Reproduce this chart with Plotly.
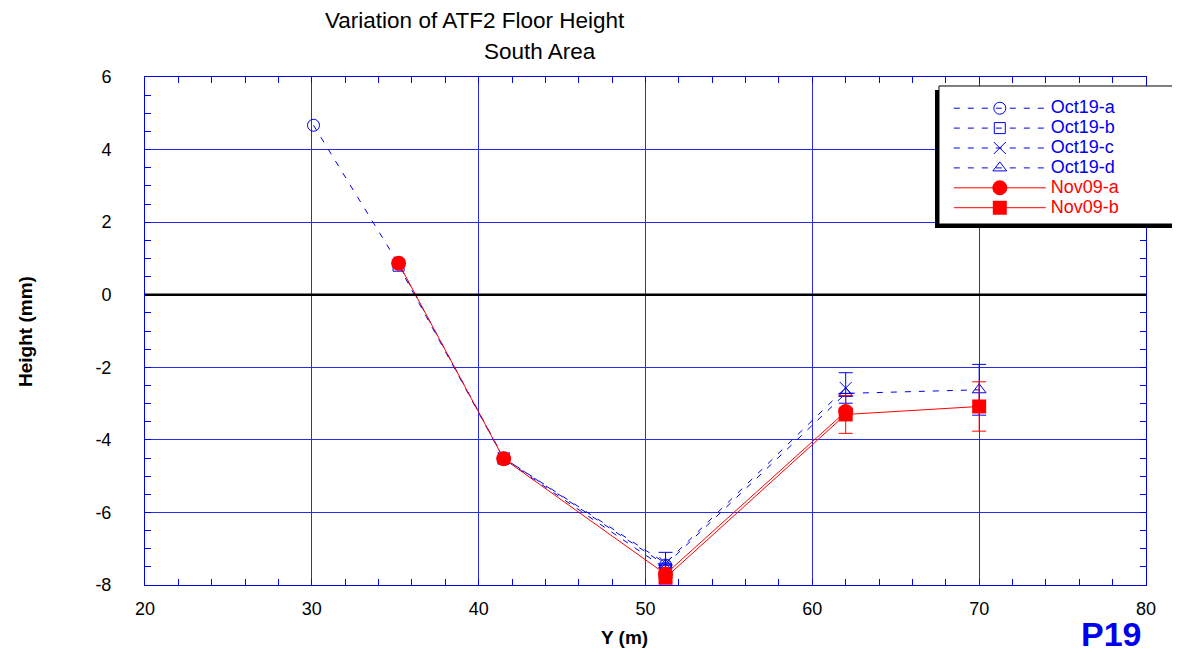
import plotly.graph_objects as go

# Oct19 survey (blue, dashed)
oct_a_x = [30.1, 35.2, 41.5, 51.2]
oct_a_y = [4.67, 0.85, -4.50, -7.45]
oct_b_x = [35.2, 41.5, 51.2]
oct_b_y = [0.80, -4.52, -7.55]
oct_c_x = [41.5, 51.2, 62.0]
oct_c_y = [-4.50, -7.40, -2.57]
oct_c_err = [0.0, 0.30, 0.42]
oct_d_x = [51.2, 62.0, 70.0]
oct_d_y = [-7.45, -2.72, -2.62]
oct_d_err = [0.0, 0.0, 0.70]

# Nov09 survey (red, solid)
nov_a_x = [35.2, 41.5, 51.2, 62.0]
nov_a_y = [0.87, -4.52, -7.70, -3.22]
nov_b_x = [51.2, 62.0, 70.0]
nov_b_y = [-7.80, -3.30, -3.08]
nov_b_err = [0.0, 0.52, 0.68]

x_ticks = [20, 30, 40, 50, 60, 70, 80]
y_ticks = [6, 4, 2, 0, -2, -4, -6, -8]
y_tick_text = [str(v) for v in y_ticks]  # plain hyphen like the original

BLUE = "#0000ee"
RED = "#ff0000"
FONT = "Liberation Sans, Arial, sans-serif"

fig = go.Figure()

# legend font is kept small so rows sit close; the label text itself is enlarged via span
def label(name, color):
    return f'<span style="font-size:18px;color:{color}">{name}</span>'

def blue_trace(name, x, y, symbol, size, err=None):
    fig.add_scatter(
        x=x, y=y, name=label(name, BLUE), mode="lines+markers",
        line=dict(color=BLUE, width=1, dash="6px,8px"),
        marker=dict(symbol=symbol, size=size, color=BLUE,
                    line=dict(color=BLUE, width=1)),
        error_y=dict(type="data", array=err, color=BLUE, thickness=1, width=7,
                     visible=err is not None),
    )

def red_trace(name, x, y, symbol, size, err=None):
    fig.add_scatter(
        x=x, y=y, name=label(name, RED), mode="lines+markers",
        line=dict(color=RED, width=1),
        marker=dict(symbol=symbol, size=size, color=RED),
        error_y=dict(type="data", array=err, color=RED, thickness=1, width=7,
                     visible=err is not None),
    )

blue_trace("Oct19-a", oct_a_x, oct_a_y, "circle-open", 12)
blue_trace("Oct19-b", oct_b_x, oct_b_y, "square-open", 11)
blue_trace("Oct19-c", oct_c_x, oct_c_y, "x-thin-open", 12, oct_c_err)
blue_trace("Oct19-d", oct_d_x, oct_d_y, "triangle-up-open", 12, oct_d_err)
red_trace("Nov09-a", nov_a_x, nov_a_y, "circle", 15)
red_trace("Nov09-b", nov_b_x, nov_b_y, "square", 14, nov_b_err)

# legend box with drop shadow to the lower left, running off the right edge
fig.add_shape(type="rect", xref="paper", yref="paper", x0=0.7892, x1=1.1, y0=0.7028, y1=0.9744,
              fillcolor="black", line_width=0, layer="above")
fig.add_shape(type="rect", xref="paper", yref="paper", x0=0.7932, x1=1.1, y0=0.7106, y1=0.9823,
              fillcolor="white", line=dict(color="black", width=1), layer="above")

axis_common = dict(
    showline=True, linecolor=BLUE, linewidth=1, mirror="allticks",
    showgrid=True, gridcolor="#2a2aee", gridwidth=1,
    ticks="inside", ticklen=0, tickcolor=BLUE,
    zeroline=False,
    tickfont=dict(family=FONT, size=18, color="black"),
)

def note(text, x, y, size, color="black", angle=0):
    return dict(text=text, xref="paper", yref="paper", x=x, y=y, xanchor="center",
                yanchor="middle", showarrow=False, textangle=angle,
                font=dict(family=FONT, size=size, color=color))

fig.update_layout(
    width=1172, height=645,
    margin=dict(l=137, r=34, t=69, b=68),
    paper_bgcolor="white", plot_bgcolor="white",
    font=dict(family=FONT, size=18, color="black"),
    xaxis=dict(range=[20, 80], tickvals=x_ticks, ticklabelstandoff=7,
               minor=dict(ticks="inside", ticklen=6, dtick=2, tickcolor=BLUE, showgrid=False),
               **axis_common),
    yaxis=dict(range=[-8, 6], tickvals=y_ticks, ticktext=y_tick_text, ticklabelstandoff=29,
               minor=dict(ticks="inside", ticklen=6, dtick=0.5, tickcolor=BLUE, showgrid=False),
               **axis_common),
    showlegend=True,
    legend=dict(x=0.803, y=0.968, xanchor="left", yanchor="top",
                bgcolor="rgba(0,0,0,0)", borderwidth=0, itemwidth=92,
                font=dict(family=FONT, size=13, color=BLUE), tracegroupgap=0),
    annotations=[
        note("Variation of ATF2 Floor Height", 0.3297, 1.112, 22.5),
        note("South Area", 0.3946, 1.051, 22.5),
        note("<b>Height (mm)</b>", -0.1199, 0.5, 19, angle=-90),
        note("<b>Y (m)</b>", 0.4795, -0.104, 19),
        note("<b>P19</b>", 0.966, -0.097, 34, BLUE),
    ],
)

fig.add_hline(y=0, line=dict(color="black", width=2.5))

fig.write_html("out.html")
